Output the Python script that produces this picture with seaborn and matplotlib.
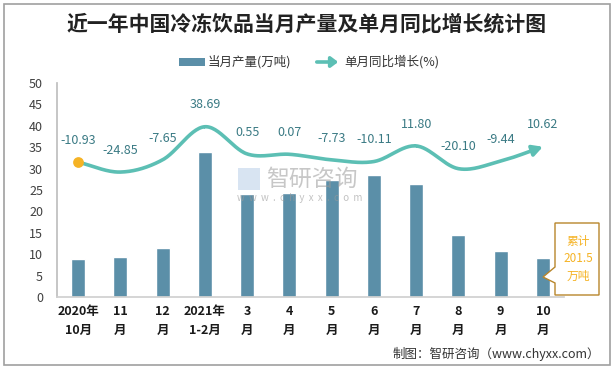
import numpy as np
import pandas as pd
import matplotlib
matplotlib.use("Agg")
import matplotlib.pyplot as plt
import seaborn as sns
from matplotlib.patches import Rectangle, Polygon

# ---------------- data ----------------
categories = ["2020年\n10月", "11\n月", "12\n月", "2021年\n1-2月", "3\n月", "4\n月",
              "5\n月", "6\n月", "7\n月", "8\n月", "9\n月", "10\n月"]
production = [8.9, 9.4, 11.4, 33.9, 24.1, 24.3, 27.3, 28.5, 26.4, 14.5, 10.7, 9.1]
growth = [-10.93, -24.85, -7.65, 38.69, 0.55, 0.07, -7.73, -10.11, 11.80, -20.10, -9.44, 10.62]
growth_labels = ["-10.93", "-24.85", "-7.65", "38.69", "0.55", "0.07", "-7.73", "-10.11",
                 "11.80", "-20.10", "-9.44", "10.62"]
y_ticks = [0, 5, 10, 15, 20, 25, 30, 35, 40, 45, 50]
title = "近一年中国冷冻饮品当月产量及单月同比增长统计图"
bar_name = "当月产量(万吨)"
line_name = "单月同比增长(%)"
total_note = "累计\n201.5\n万吨"
footer = "制图：智研咨询（www.chyxx.com）"

sns.set_theme(style="white")
plt.rcParams['font.family'] = ['Noto Sans CJK SC', 'DejaVu Sans']

BAR_C = "#5B8FA8"
LINE_C = "#5CBFB4"
LABEL_C = "#3A7A84"
ORANGE = "#F5B325"

W, H = 614, 369
fig = plt.figure(figsize=(W / 100, H / 100), dpi=100)
ax = fig.add_axes([57 / W, 1 - 297 / H, (564 - 57) / W, (297 - 83) / H])

df = pd.DataFrame({"cat": categories, "val": production})
sns.barplot(data=df, x="cat", y="val", color=BAR_C, width=0.33, saturation=1, ax=ax)
ax.set_xlim(-0.5, len(categories) - 0.5)
ax.set_ylim(0, 50)
ax.set_yticks(y_ticks)
ax.set_xlabel("")
ax.set_ylabel("")
ax.tick_params(axis="y", labelsize=9, colors="#404040", length=0, pad=10)
ax.tick_params(axis="x", which="major", length=0, pad=6)
for lab in ax.get_xticklabels():
    lab.set_fontweight("bold")
    lab.set_fontsize(9)
    lab.set_color("#1a1a1a")
    lab.set_linespacing(1.6)
ax.set_xticks(np.arange(-0.5, len(categories), 1.0), minor=True)
ax.tick_params(axis="x", which="minor", length=5, color="#D0D0D0", width=1, direction="out")
for s in ["top", "right"]:
    ax.spines[s].set_visible(False)
ax.spines["left"].set_color("#BFBFBF")
ax.spines["bottom"].set_color("#D0D0D0")

# secondary axis for growth
ax2 = ax.twinx()
ax2.set_ylim(-200, 100)
ax2.axis("off")
x = np.arange(len(growth), dtype=float)
y = np.array(growth, dtype=float)

# Catmull-Rom smoothing (display of the line only)
px = np.concatenate([[2 * x[0] - x[1]], x, [2 * x[-1] - x[-2]]])
py = np.concatenate([[2 * y[0] - y[1]], y, [2 * y[-1] - y[-2]]])
sx, sy = [], []
t = np.linspace(0, 1, 30)
for i in range(1, len(px) - 2):
    p0, p1, p2, p3 = [np.array([px[j], py[j]]) for j in (i - 1, i, i + 1, i + 2)]
    tt = t[:, None]
    pts = 0.5 * ((2 * p1) + (-p0 + p2) * tt + (2 * p0 - 5 * p1 + 4 * p2 - p3) * tt ** 2
                 + (-p0 + 3 * p1 - 3 * p2 + p3) * tt ** 3)
    sx.extend(pts[:, 0]); sy.extend(pts[:, 1])
sx = np.array(sx); sy = np.array(sy)
ax2.plot(sx[:-4], sy[:-4], color=LINE_C, lw=2.6, solid_capstyle="round", zorder=3)
ax2.annotate("", xy=(sx[-1], sy[-1]), xytext=(sx[-8], sy[-8]),
             arrowprops=dict(arrowstyle="-|>,head_length=0.5,head_width=0.27", color=LINE_C,
                             lw=2.6, shrinkA=0, shrinkB=0), zorder=3)
ax2.scatter([x[0]], [y[0]], s=60, color=ORANGE, zorder=4, linewidths=0)
for xi, yi, lab in zip(x, y, growth_labels):
    ax2.annotate(lab, (xi, yi), xytext=(0, 11), textcoords="offset points",
                 ha="center", va="bottom", fontsize=9, color=LABEL_C)

# watermark
fig.text(266 / W, 1 - 179 / H, "智研咨询", fontsize=16.5, color="#9A9A9A", alpha=0.55,
         ha="left", va="center")
fig.text(300 / W, 1 - 198 / H, "w  w  w  .  c  h  y  x  x  .  c  o  m", fontsize=7,
         color="#9A9A9A", alpha=0.6, ha="center", va="center")
fig.patches.append(Rectangle((238 / W, 1 - 190 / H), 22 / W, 22 / H, transform=fig.transFigure,
                             facecolor="#BFD3EA", edgecolor="none", alpha=0.6))

# title
fig.text(0.5, 1 - 24 / H, title, fontsize=15, fontweight="bold", ha="center", va="center",
         color="#222222")

# legend (manual)
fig.patches.append(Rectangle((179 / W, 1 - 66 / H), 26 / W, 8 / H, transform=fig.transFigure,
                             facecolor=BAR_C, edgecolor="none"))
fig.text(208 / W, 1 - 62 / H, bar_name, fontsize=9, ha="left", va="center", color="#333333")
fig.patches.append(matplotlib.patches.FancyArrowPatch(
    (314 / W, 1 - 62 / H), (341 / W, 1 - 62 / H), transform=fig.transFigure,
    arrowstyle="-|>,head_length=4,head_width=3", color=LINE_C, lw=2.6, mutation_scale=1))
fig.text(344 / W, 1 - 62 / H, line_name, fontsize=9, ha="left", va="center", color="#333333")

# callout box
box = [(555, 223), (599, 223), (599, 295), (555, 295), (555, 283), (543, 277), (555, 267)]
fig.patches.append(Polygon([(bx / W, 1 - by / H) for bx, by in box], closed=True,
                           transform=fig.transFigure, facecolor="white",
                           edgecolor="#B8862B", lw=1.0))
fig.text(578 / W, 1 - 259 / H, total_note, fontsize=8.5, color=ORANGE, ha="center",
         va="center", linespacing=1.4)

# footer
fig.text(600 / W, 1 - 354 / H, footer, fontsize=9, ha="right", va="center", color="#333333")

# figure border
fig.patches.append(Rectangle((4 / W, 4 / H), 606 / W, 361 / H, transform=fig.transFigure,
                             facecolor="none", edgecolor="#A0A0A0", lw=1.2))

fig.savefig("out.png", dpi=100)
